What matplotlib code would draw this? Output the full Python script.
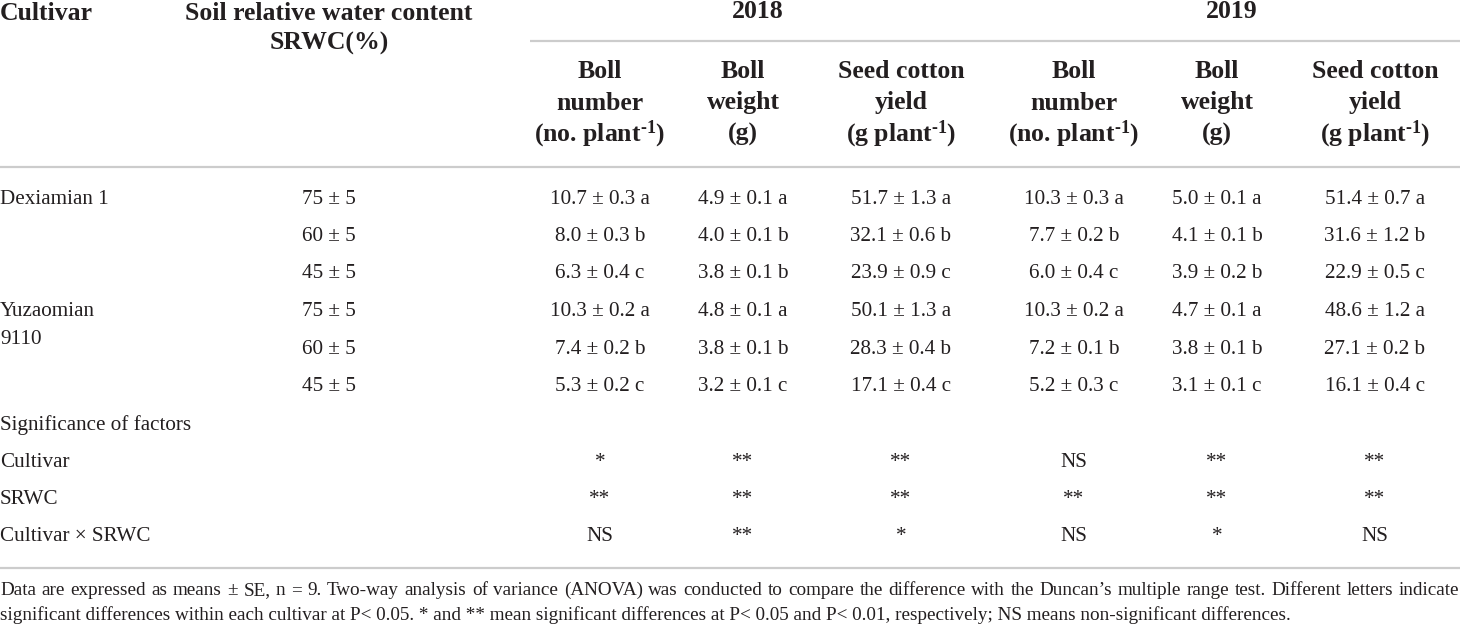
import matplotlib
matplotlib.use("Agg")
import matplotlib.pyplot as plt

# ---- table content ----
cultivars = ["Dexiamian 1", "Yuzaomian\n9110"]
srwc_levels = ["75 ± 5", "60 ± 5", "45 ± 5"]
years = ["2018", "2019"]
col_heads = [
    ["Boll", "number", "(no. plant$^{\u2010\mathregular{1}}$)"],
    ["Boll", "weight", "(g)"],
    ["Seed cotton", "yield", "(g plant$^{\u2010\mathregular{1}}$)"],
]

# rows: Dexiamian 1 (75, 60, 45), Yuzaomian 9110 (75, 60, 45)
bn_2018_mean = [10.7, 8.0, 6.3, 10.3, 7.4, 5.3]
bn_2018_se = [0.3, 0.3, 0.4, 0.2, 0.2, 0.2]
bn_2018_let = ["a", "b", "c", "a", "b", "c"]
bw_2018_mean = [4.9, 4.0, 3.8, 4.8, 3.8, 3.2]
bw_2018_se = [0.1, 0.1, 0.1, 0.1, 0.1, 0.1]
bw_2018_let = ["a", "b", "b", "a", "b", "c"]
scy_2018_mean = [51.7, 32.1, 23.9, 50.1, 28.3, 17.1]
scy_2018_se = [1.3, 0.6, 0.9, 1.3, 0.4, 0.4]
scy_2018_let = ["a", "b", "c", "a", "b", "c"]

bn_2019_mean = [10.3, 7.7, 6.0, 10.3, 7.2, 5.2]
bn_2019_se = [0.3, 0.2, 0.4, 0.2, 0.1, 0.3]
bn_2019_let = ["a", "b", "c", "a", "b", "c"]
bw_2019_mean = [5.0, 4.1, 3.9, 4.7, 3.8, 3.1]
bw_2019_se = [0.1, 0.1, 0.2, 0.1, 0.1, 0.1]
bw_2019_let = ["a", "b", "b", "a", "b", "c"]
scy_2019_mean = [51.4, 31.6, 22.9, 48.6, 27.1, 16.1]
scy_2019_se = [0.7, 1.2, 0.5, 1.2, 0.2, 0.4]
scy_2019_let = ["a", "b", "c", "a", "b", "c"]

factors = ["Cultivar", "SRWC", "Cultivar × SRWC"]
sig_cultivar = ["*", "**", "**", "NS", "**", "**"]
sig_srwc = ["**", "**", "**", "**", "**", "**"]
sig_inter = ["NS", "**", "*", "NS", "*", "NS"]

footnote = [
    "Data are expressed as means ± SE, n = 9. Two-way analysis of variance (ANOVA) was conducted to compare the "
    "difference with the Duncan’s multiple range test. Different letters indicate",
    "significant differences within each cultivar at P< 0.05. * and ** mean significant differences at P< 0.05 "
    "and P< 0.01, respectively; NS means non-significant differences.",
]

plt.rcParams["font.family"] = ["Liberation Serif", "DejaVu Serif"]
plt.rcParams["mathtext.default"] = "regular"

TXT = "#231f20"
LINE = "#cccccc"
HEAD_FS = 18.5
BODY_FS = 15.2
NOTE_FS = 13.8

fig = plt.figure(figsize=(14.6, 6.29), dpi=100)
ax = fig.add_axes([0, 0, 1, 1])
ax.set_xlim(0, 1460)
ax.set_ylim(629, 0)
ax.axis("off")

col_x = [600, 743, 901, 1074, 1217, 1375]
srwc_x = 329
row_y = [199 + 37.5 * i for i in range(6)]


def fmt(means, ses, lets):
    return [f"{m:.1f} ± {s:.1f} {l}" for m, s, l in zip(means, ses, lets)]


columns = [
    fmt(bn_2018_mean, bn_2018_se, bn_2018_let),
    fmt(bw_2018_mean, bw_2018_se, bw_2018_let),
    fmt(scy_2018_mean, scy_2018_se, scy_2018_let),
    fmt(bn_2019_mean, bn_2019_se, bn_2019_let),
    fmt(bw_2019_mean, bw_2019_se, bw_2019_let),
    fmt(scy_2019_mean, scy_2019_se, scy_2019_let),
]

# header
hd = dict(fontsize=HEAD_FS, fontweight="bold", color=TXT, va="center")
ax.text(0, 13, "Cultivar", ha="left", **hd)
ax.text(srwc_x, 13, "Soil relative water content", ha="center", **hd)
ax.text(srwc_x, 43, "SRWC(%)", ha="center", **hd)
ax.text((col_x[0] + col_x[2]) / 2 + 7, 12, years[0], ha="center", **hd)
ax.text((col_x[3] + col_x[5]) / 2 + 7, 12, years[1], ha="center", **hd)
for i, x in enumerate(col_x):
    for y, line in zip([72, 103, 134], col_heads[i % 3]):
        ax.text(x, y, line, ha="center", **hd)

ax.plot([530, 1460], [41, 41], color=LINE, lw=1.6, solid_capstyle="butt")
ax.plot([0, 1460], [167, 167], color=LINE, lw=1.6, solid_capstyle="butt")
ax.plot([0, 1460], [568, 568], color=LINE, lw=1.6, solid_capstyle="butt")

# body
bd = dict(fontsize=BODY_FS, color=TXT, va="center")
ax.text(0, row_y[0], cultivars[0], ha="left", **bd)
name, num = cultivars[1].split("\n")
ax.text(0, row_y[3], name, ha="left", **bd)
ax.text(0, row_y[3] + 28, num, ha="left", **bd)
for r, y in enumerate(row_y):
    ax.text(srwc_x, y, srwc_levels[r % 3], ha="center", **bd)
    for x, col in zip(col_x, columns):
        ax.text(x, y, col[r], ha="center", **bd)

# significance of factors
sig_y = [425 + 37.3 * i for i in range(4)]
ax.text(0, sig_y[0], "Significance of factors", ha="left", **bd)
for y, fac, sig in zip(sig_y[1:], factors, [sig_cultivar, sig_srwc, sig_inter]):
    ax.text(0, y, fac, ha="left", **bd)
    for x, s in zip(col_x, sig):
        ax.text(x, y, s, ha="center", **bd)

# footnote: first line justified to full width, last line left aligned
renderer = fig.canvas.get_renderer()
words = footnote[0].split(" ")
items = [ax.text(0, 595, w, ha="left", va="baseline", fontsize=NOTE_FS, color=TXT)
         for w in words]
widths = [t.get_window_extent(renderer).width for t in items]
gap = (1459 - sum(widths)) / (len(words) - 1)
x = 0
for t, w in zip(items, widths):
    t.set_x(x)
    x += w + gap
ax.text(0, 620, footnote[1], ha="left", va="baseline", fontsize=NOTE_FS, color=TXT)

fig.savefig("out.png", dpi=100)
